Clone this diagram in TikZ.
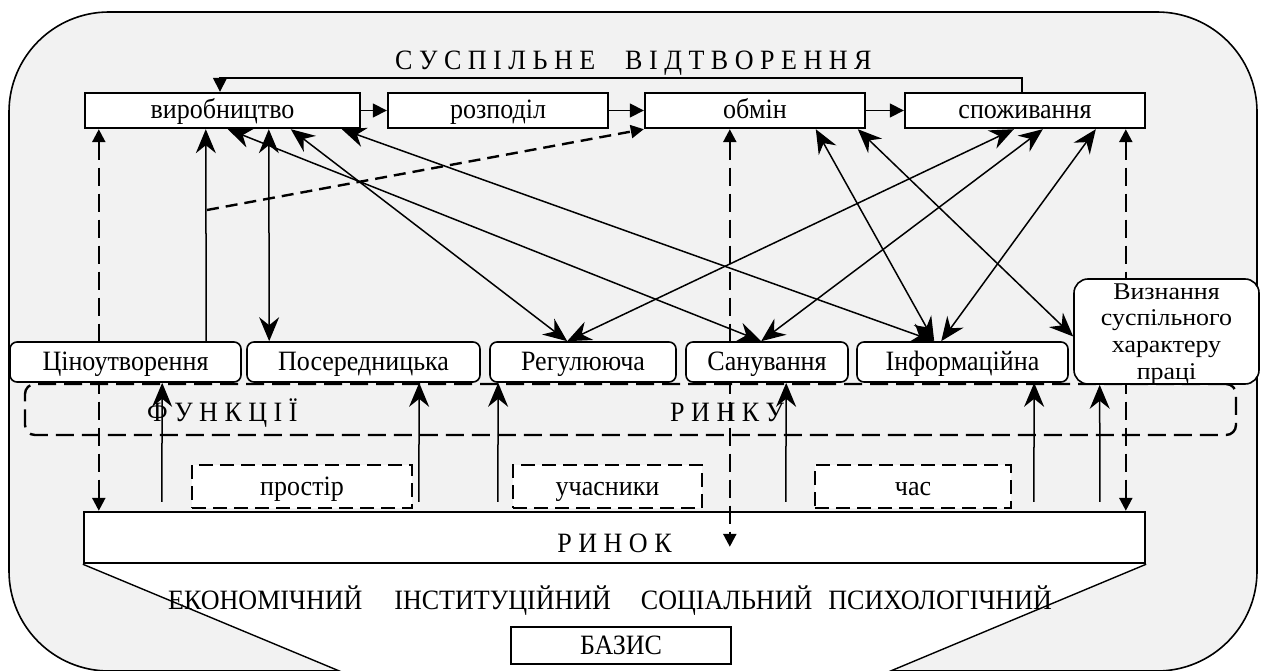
\documentclass[tikz,border=0pt]{standalone}
\usepackage{fontspec}
\setmainfont{Liberation Serif}[FakeStretch=0.93]
\newfontfamily\vizfont{Liberation Serif}[FakeStretch=1.08]
\usetikzlibrary{arrows.meta}
\pgfdeclarelayer{back}
\pgfdeclarelayer{bg}
\pgfdeclarelayer{mid}
\pgfsetlayers{back,bg,mid,main}
\definecolor{panel}{HTML}{F2F2F2}
\tikzset{
  txt/.style={font=\fontsize{28}{25}\selectfont, inner sep=0pt},
  oneline/.style={text height=20pt, text depth=3pt},
  topbox/.style={txt, oneline, draw, line width=2.4pt, fill=white, minimum height=35pt},
  fnbox/.style={txt, draw, line width=1.6pt, fill=white, rounded corners=7pt, minimum height=40pt},
  dashbox/.style={txt, oneline, draw, line width=2.4pt, fill=white, dash pattern=on 14pt off 7pt, minimum height=43pt},
  flow/.style={line width=1.6pt, -{Triangle[length=14pt,width=14pt]}},
  link/.style={line width=1.5pt, {Stealth[length=24pt,width=20pt,inset=8pt]}-{Stealth[length=24pt,width=20pt,inset=8pt]}},
  rise/.style={line width=1.5pt, -{Stealth[length=24pt,width=20pt,inset=8pt]}},
  dlink/.style={line width=2.4pt, dash pattern=on 18pt off 8pt, {Triangle[length=13pt,width=13pt]}-{Triangle[length=13pt,width=13pt]}},
  dflow/.style={line width=2.4pt, dash pattern=on 12pt off 7pt, -{Triangle[length=13pt,width=13pt]}},
  bandbox/.style={draw, line width=2.4pt, dash pattern=on 18pt off 8pt, rounded corners=10pt, inner sep=0pt},
}
\begin{document}
\begin{tikzpicture}[x=1pt,y=-1pt]
\useasboundingbox (0,0) rectangle (1265,671);
% market (kept under the connectors)
\begin{pgfonlayer}{bg}
\node[txt, draw, line width=2.4pt, fill=white, minimum width=1061pt, minimum height=51pt, text height=29pt, text depth=0pt] (mkt) at (614.5,537.5) {Р И Н О К};
\end{pgfonlayer}
\begin{pgfonlayer}{back}
\node[draw, line width=1.6pt, fill=panel, rounded corners=100pt, minimum width=1248pt, minimum height=659pt, inner sep=0pt] (frame) at (633,341.5) {};
\fill[white] (mkt.south west) -- (361,680) -- (869,680) -- (mkt.south east) -- cycle;
\draw[line width=1.4pt] (mkt.south west) -- (361,680) (mkt.south east) -- (869,680);
\end{pgfonlayer}
% top row
\node[topbox, minimum width=275pt] (vyr) at (222.5,110.5) {виробництво};
\node[topbox, minimum width=220pt] (roz) at (498,110.5) {розподіл};
\node[topbox, minimum width=220pt] (obm) at (755,110.5) {обмін};
\node[topbox, minimum width=240pt] (spo) at (1025,110.5) {споживання};
% functions
\node[fnbox, oneline, minimum width=231pt] (cin) at (125.5,362) {Ціноутворення};
\node[fnbox, oneline, minimum width=233pt] (pos) at (363.5,362) {Посередницька};
\node[fnbox, oneline, minimum width=186pt] (reg) at (583,362) {Регулююча};
\node[fnbox, oneline, minimum width=162pt] (san) at (767,362) {Санування};
\node[fnbox, oneline, minimum width=211pt] (inf) at (962.5,362) {Інформаційна};
\node[fnbox, font=\vizfont\fontsize{24}{26.8}\selectfont, minimum width=185pt, minimum height=105pt, align=center, text depth=0pt, rounded corners=14pt] (viz) at (1166.5,331.5) {Визнання\\суспільного\\характеру\\праці};
% small dashed boxes
\node[dashbox, minimum width=220pt] (pro) at (302,486.5) {простір};
\node[dashbox, minimum width=189pt] (uch) at (607.5,486.5) {учасники};
\node[dashbox, minimum width=196pt] (chas) at (913,486.5) {час};
% basis
\node[txt, oneline, draw, line width=1.8pt, fill=white, minimum width=220pt, minimum height=37pt] (baz) at (621,645.5) {БАЗИС};
% texts
\node[txt, anchor=base west] (title) at (395,70) {С У С П І Л Ь Н Е\hspace{30pt}В І Д Т В О Р Е Н Н Я};
\node[txt, anchor=base west] (fun) at (147,421) {Ф У Н К Ц І Ї};
\node[txt, anchor=base west] (rin) at (670,421) {Р И Н К У};
\node[txt, anchor=base west] (lev) at (168,609) {ЕКОНОМІЧНИЙ\hspace{32pt}ІНСТИТУЦІЙНИЙ\hspace{30pt}СОЦІАЛЬНИЙ\hspace{16pt}ПСИХОЛОГІЧНИЙ};
\coordinate (fbR) at (1022,78);
\coordinate (fbL) at (220,78);
\coordinate (dst) at (207,210);
\begin{pgfonlayer}{mid}
\node[bandbox, minimum width=1211pt, minimum height=51pt] (band) at (630.5,409.5) {};
\draw[flow] (vyr) -- (roz);
\draw[flow] (roz) -- (obm);
\draw[flow] (obm) -- (spo);
\draw[flow] (spo.north -| fbR) -- (fbR) -- (fbL) -- (vyr.north -| fbL);
% dashed verticals
\draw[dlink] ([xshift=15pt]vyr.south west) -- ([xshift=16pt]mkt.north west);
\draw[dlink] ([xshift=86pt]obm.south west) -- ([shift={(647,36)}]mkt.north west);
\draw[dlink] ([xshift=222pt]spo.south west) -- ([xshift=1043pt]mkt.north west);
% from pricing to production, dashed to exchange
\draw[rise] ([xshift=197pt]cin.north west) -- ([xshift=122pt]vyr.south west);
\draw[dflow] (dst) -- (obm.south west);
% links
\draw[link] ([xshift=185pt]vyr.south west) -- ([xshift=23pt]pos.north west);
\draw[link] ([xshift=144pt]vyr.south west) -- ([xshift=76pt]san.north west);
\draw[link] ([xshift=207pt]vyr.south west) -- ([xshift=78pt]reg.north west);
\draw[link] ([xshift=258pt]vyr.south west) -- ([xshift=78pt]inf.north west);
\draw[link] ([xshift=172pt]obm.south west) -- ([xshift=78pt]inf.north west);
\draw[link] ([xshift=214pt]obm.south west) -- ([yshift=-5pt]viz.west);
\draw[link] ([xshift=110pt]spo.south west) -- ([xshift=78pt]reg.north west);
\draw[link] ([xshift=139pt]spo.south west) -- ([xshift=76pt]san.north west);
\draw[link] ([xshift=192pt]spo.south west) -- ([xshift=85pt]inf.north west);
% from market up to functions
\draw[rise] ([shift={(79,-9)}]mkt.north west) -- ([xshift=153pt]cin.south west);
\draw[rise] ([shift={(336,-9)}]mkt.north west) -- ([xshift=173pt]pos.south west);
\draw[rise] ([shift={(415,-9)}]mkt.north west) -- ([xshift=9pt]reg.south west);
\draw[rise] ([shift={(703,-9)}]mkt.north west) -- ([xshift=101pt]san.south west);
\draw[rise] ([shift={(951,-9)}]mkt.north west) -- ([xshift=178pt]inf.south west);
\draw[rise] ([shift={(1017,-9)}]mkt.north west) -- ([xshift=26.5pt]viz.south west);
\end{pgfonlayer}
\end{tikzpicture}
\end{document}
